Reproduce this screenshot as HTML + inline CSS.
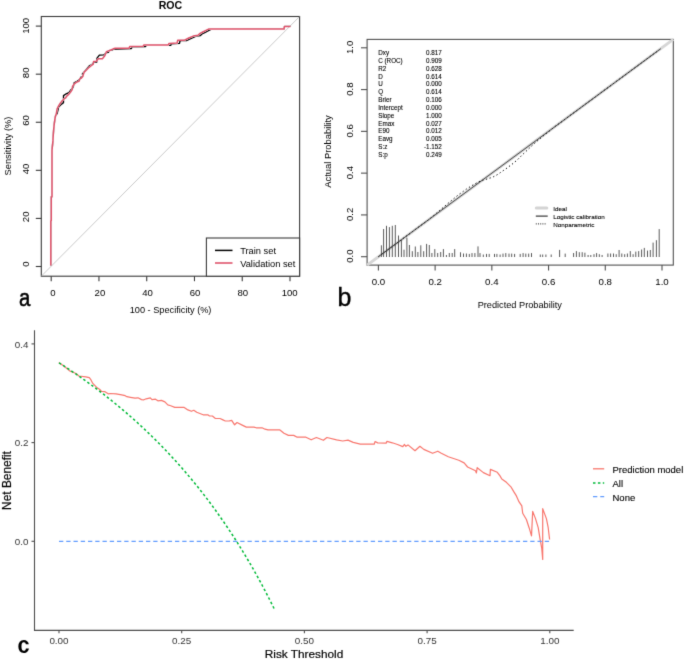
<!DOCTYPE html>
<html><head><meta charset="utf-8"><style>
html,body{margin:0;padding:0;background:#fff;width:685px;height:660px;overflow:hidden}
svg{display:block}
text{font-family:"Liberation Sans", sans-serif}
</style></head><body>
<svg width="685" height="660" viewBox="0 0 685 660" font-family='"Liberation Sans", sans-serif'>
<defs><filter id="bl" x="0" y="0" width="685" height="660" filterUnits="userSpaceOnUse" color-interpolation-filters="sRGB"><feConvolveMatrix order="3" kernelMatrix="0.0113 0.0838 0.0113 0.0838 0.6193 0.0838 0.0113 0.0838 0.0113" edgeMode="duplicate"/></filter></defs>
<g filter="url(#bl)">
<rect width="685" height="660" fill="#fff"/>
<rect x="41.3" y="16.5" width="258.3" height="259.7" fill="none" stroke="#3a3a3a" stroke-width="1.1"/>
<line x1="41.3" y1="276.2" x2="299.6" y2="16.5" stroke="#bdbdbd" stroke-width="0.8"/>
<line x1="35.8" y1="266.5" x2="41.3" y2="266.5" stroke="#3a3a3a" stroke-width="1.1"/>
<text x="0" y="0" transform="translate(28.5,264.1) rotate(-90)" text-anchor="middle" font-size="9.6" fill="#000">0</text>
<line x1="51.2" y1="276.2" x2="51.2" y2="281.2" stroke="#3a3a3a" stroke-width="1.1"/>
<text x="52.8" y="295.9" text-anchor="middle" font-size="9.6" fill="#000">0</text>
<line x1="35.8" y1="218.42" x2="41.3" y2="218.42" stroke="#3a3a3a" stroke-width="1.1"/>
<text x="0" y="0" transform="translate(28.5,216.82) rotate(-90)" text-anchor="middle" font-size="9.6" fill="#000">20</text>
<line x1="98.96" y1="276.2" x2="98.96" y2="281.2" stroke="#3a3a3a" stroke-width="1.1"/>
<text x="99.96" y="295.9" text-anchor="middle" font-size="9.6" fill="#000">20</text>
<line x1="35.8" y1="170.34" x2="41.3" y2="170.34" stroke="#3a3a3a" stroke-width="1.1"/>
<text x="0" y="0" transform="translate(28.5,168.94) rotate(-90)" text-anchor="middle" font-size="9.6" fill="#000">40</text>
<line x1="146.72" y1="276.2" x2="146.72" y2="281.2" stroke="#3a3a3a" stroke-width="1.1"/>
<text x="147.62" y="295.9" text-anchor="middle" font-size="9.6" fill="#000">40</text>
<line x1="35.8" y1="122.26" x2="41.3" y2="122.26" stroke="#3a3a3a" stroke-width="1.1"/>
<text x="0" y="0" transform="translate(28.5,120.46) rotate(-90)" text-anchor="middle" font-size="9.6" fill="#000">60</text>
<line x1="194.48" y1="276.2" x2="194.48" y2="281.2" stroke="#3a3a3a" stroke-width="1.1"/>
<text x="195.08" y="295.9" text-anchor="middle" font-size="9.6" fill="#000">60</text>
<line x1="35.8" y1="74.18" x2="41.3" y2="74.18" stroke="#3a3a3a" stroke-width="1.1"/>
<text x="0" y="0" transform="translate(28.5,72.88) rotate(-90)" text-anchor="middle" font-size="9.6" fill="#000">80</text>
<line x1="242.24" y1="276.2" x2="242.24" y2="281.2" stroke="#3a3a3a" stroke-width="1.1"/>
<text x="242.84" y="295.9" text-anchor="middle" font-size="9.6" fill="#000">80</text>
<line x1="35.8" y1="26.1" x2="41.3" y2="26.1" stroke="#3a3a3a" stroke-width="1.1"/>
<text x="0" y="0" transform="translate(28.5,25.8) rotate(-90)" text-anchor="middle" font-size="9.6" fill="#000">100</text>
<line x1="290" y1="276.2" x2="290" y2="281.2" stroke="#3a3a3a" stroke-width="1.1"/>
<text x="289.7" y="295.9" text-anchor="middle" font-size="9.6" fill="#000">100</text>
<text x="170.5" y="9.3" text-anchor="middle" font-size="10.6" font-weight="bold" fill="#000">ROC</text>
<text x="170.6" y="313.2" text-anchor="middle" font-size="9.2" fill="#000">100 - Specificity (%)</text>
<text x="0" y="0" transform="translate(10.9,146) rotate(-90)" text-anchor="middle" font-size="9.3" fill="#000">Sensitivity (%)</text>
<rect x="206.4" y="238" width="93.2" height="38.2" fill="#fff" stroke="#3a3a3a" stroke-width="1.1"/>
<line x1="215" y1="250.4" x2="232.5" y2="250.4" stroke="#000" stroke-width="1.5"/>
<line x1="215" y1="263" x2="232.5" y2="263" stroke="#DF536B" stroke-width="1.6"/>
<text x="240.2" y="254.4" font-size="9.3" fill="#000">Train set</text>
<text x="240.2" y="267" font-size="9.3" fill="#000">Validation set</text>
<mask id="mr" maskUnits="userSpaceOnUse" x="0" y="0" width="685" height="660"><rect width="685" height="660" fill="#fff"/><polyline points="50.8,265.5 50.8,220.8 51.3,220.8 51.3,196.7 52,196.7 52,150.6 52.9,140.9 53.7,128.8 54.7,120.3 55.5,116 56.2,114.4 57.1,108.9 58.6,105.9 60.1,103.5 61.9,101.1 63.8,99.2 65.9,97.7 66.2,96.8 68.6,94.4 70.4,92.3 72.2,89.5 72.5,86.5 74.1,84.1 75.6,82.9 77.7,81.7 79.2,81.1 79.8,78.6 81.2,78.2 82.7,76.4 84.2,72.1 86.7,69.7 89.1,67.3 91.5,65.5 93.3,64.2 93.6,61.5 96.4,61.2 98.2,58.8 102.4,58.8 104.8,55.8 106.4,51.8 108.5,50.9 110.9,50 113.3,48.8 115.2,48.2 129,48.2 129.7,46.6 143.2,46.2 143.8,45.1 168.3,45.1 168.9,43.5 177.1,43.1 177.7,40.2 184.5,40.2 188.8,38 193.2,36.1 198,35.3 199.6,33.7 202.8,32 206,30.4 208.5,29.1 284,29.1 284.5,26.4 290.4,26.4" fill="none" stroke="#000" stroke-width="1.7" stroke-linejoin="round"/></mask>
<polyline points="50.8,265.5 50.8,220.8 51.3,220.8 51.3,196.7 52,196.7 52,150.6 52.9,140.9 53.7,128.8 54.7,120.3 55.5,116 56.2,114.4 57.1,113.8 58.6,107.1 60.5,105 63.5,102.6 63.5,95.6 66.2,93.8 68.9,92.6 70.7,90.2 72.8,87.7 73.5,85.9 74.1,82.9 76.5,81.7 79.8,79.2 81,77.1 82.8,76.2 82.4,73.9 86.1,69.7 89.7,65.5 92.1,64.5 93.9,62.1 96.7,62.1 97,58.2 99.4,55.2 103.9,54.8 106.7,52.7 108.5,52.4 109.1,50.6 112.1,50 113.9,49.1 116.4,49.1 131.4,48.5 132.1,46.9 145.6,46.5 146.2,45.4 170.7,45.4 171.3,43.8 179.5,43.4 180.1,40.5 186.9,40.5 191.2,38.3 195.6,36.4 200.4,35.6 202,34 205.2,32.3 208.4,30.7 210.9,29.4 284,29.1 284.5,26.4 290.4,26.4" fill="none" stroke="#000" stroke-width="1.35" stroke-linejoin="round" mask="url(#mr)"/>
<polyline points="50.8,265.5 50.8,220.8 51.3,220.8 51.3,196.7 52,196.7 52,150.6 52.9,140.9 53.7,128.8 54.7,120.3 55.5,116 56.2,114.4 57.1,108.9 58.6,105.9 60.1,103.5 61.9,101.1 63.8,99.2 65.9,97.7 66.2,96.8 68.6,94.4 70.4,92.3 72.2,89.5 72.5,86.5 74.1,84.1 75.6,82.9 77.7,81.7 79.2,81.1 79.8,78.6 81.2,78.2 82.7,76.4 84.2,72.1 86.7,69.7 89.1,67.3 91.5,65.5 93.3,64.2 93.6,61.5 96.4,61.2 98.2,58.8 102.4,58.8 104.8,55.8 106.4,51.8 108.5,50.9 110.9,50 113.3,48.8 115.2,48.2 129,48.2 129.7,46.6 143.2,46.2 143.8,45.1 168.3,45.1 168.9,43.5 177.1,43.1 177.7,40.2 184.5,40.2 188.8,38 193.2,36.1 198,35.3 199.6,33.7 202.8,32 206,30.4 208.5,29.1 284,29.1 284.5,26.4 290.4,26.4" fill="none" stroke="#DF536B" stroke-width="1.5" stroke-linejoin="round"/>
<text x="0" y="0" transform="translate(18.9,306.1) scale(0.82,1)" font-size="24.8" fill="#000" stroke="#000" stroke-width="0.55">a</text>
<rect x="367.1" y="39.4" width="306.2" height="225.7" fill="none" stroke="#505050" stroke-width="1.1"/>
<line x1="367.1" y1="265.1" x2="673.3" y2="39.4" stroke="#d6d6d6" stroke-width="3.0"/>
<g stroke="#5a5a5a" stroke-width="1"><line x1="381.4" y1="257" x2="381.4" y2="245.3"/><line x1="383.6" y1="257" x2="383.6" y2="229"/><line x1="386.5" y1="257" x2="386.5" y2="225.8"/><line x1="389.4" y1="257" x2="389.4" y2="227.1"/><line x1="392.3" y1="257" x2="392.3" y2="225.8"/><line x1="395.3" y1="257" x2="395.3" y2="225"/><line x1="398.5" y1="257" x2="398.5" y2="235.5"/><line x1="401.4" y1="257" x2="401.4" y2="240"/><line x1="404" y1="257" x2="404" y2="249.7"/><line x1="406.9" y1="257" x2="406.9" y2="237.7"/><line x1="409.4" y1="257" x2="409.4" y2="245"/><line x1="412.3" y1="257" x2="412.3" y2="251.2"/><line x1="415.3" y1="257" x2="415.3" y2="246.5"/><line x1="417.9" y1="257" x2="417.9" y2="252"/><line x1="420.8" y1="257" x2="420.8" y2="245.3"/><line x1="423.7" y1="257" x2="423.7" y2="251.2"/><line x1="426.6" y1="257" x2="426.6" y2="243.9"/><line x1="429.3" y1="257" x2="429.3" y2="245"/><line x1="431.9" y1="257" x2="431.9" y2="253"/><line x1="434.8" y1="257" x2="434.8" y2="249.1"/><line x1="437.7" y1="257" x2="437.7" y2="253"/><line x1="440.7" y1="257" x2="440.7" y2="252"/><line x1="443.4" y1="257" x2="443.4" y2="249.1"/><line x1="446.4" y1="257" x2="446.4" y2="255"/><line x1="449.3" y1="257" x2="449.3" y2="253"/><line x1="452.2" y1="257" x2="452.2" y2="253"/><line x1="454.7" y1="257" x2="454.7" y2="249.1"/><line x1="460.5" y1="257" x2="460.5" y2="252.3"/><line x1="463.5" y1="257" x2="463.5" y2="253.5"/><line x1="466.4" y1="257" x2="466.4" y2="253.5"/><line x1="469.3" y1="257" x2="469.3" y2="253.9"/><line x1="472" y1="257" x2="472" y2="253.1"/><line x1="474.9" y1="257" x2="474.9" y2="253.1"/><line x1="478" y1="257" x2="478" y2="246.4"/><line x1="480" y1="257" x2="480" y2="253.1"/><line x1="483.3" y1="257" x2="483.3" y2="254.5"/><line x1="486.5" y1="257" x2="486.5" y2="253.9"/><line x1="489.2" y1="257" x2="489.2" y2="253.9"/><line x1="494.5" y1="257" x2="494.5" y2="253.9"/><line x1="496.9" y1="257" x2="496.9" y2="253.9"/><line x1="500.1" y1="257" x2="500.1" y2="254.5"/><line x1="503" y1="257" x2="503" y2="253.6"/><line x1="505.8" y1="257" x2="505.8" y2="253.1"/><line x1="509" y1="257" x2="509" y2="253.6"/><line x1="511.7" y1="257" x2="511.7" y2="253.6"/><line x1="514.6" y1="257" x2="514.6" y2="253.9"/><line x1="520.2" y1="257" x2="520.2" y2="253.9"/><line x1="523.1" y1="257" x2="523.1" y2="253.1"/><line x1="525.8" y1="257" x2="525.8" y2="253.6"/><line x1="528.7" y1="257" x2="528.7" y2="253.6"/><line x1="531.5" y1="257" x2="531.5" y2="253.1"/><line x1="540.3" y1="257" x2="540.3" y2="254.5"/><line x1="542.7" y1="257" x2="542.7" y2="254.5"/><line x1="545.9" y1="257" x2="545.9" y2="254.5"/><line x1="551.2" y1="257" x2="551.2" y2="254.5"/><line x1="559.6" y1="257" x2="559.6" y2="249.9"/><line x1="565.2" y1="257" x2="565.2" y2="253.6"/><line x1="573.6" y1="257" x2="573.6" y2="253"/><line x1="576.4" y1="257" x2="576.4" y2="251.1"/><line x1="579.3" y1="257" x2="579.3" y2="252.2"/><line x1="582.2" y1="257" x2="582.2" y2="252.2"/><line x1="584.9" y1="257" x2="584.9" y2="252.7"/><line x1="588.1" y1="257" x2="588.1" y2="255"/><line x1="590.8" y1="257" x2="590.8" y2="255"/><line x1="594" y1="257" x2="594" y2="254.2"/><line x1="596.6" y1="257" x2="596.6" y2="253.1"/><line x1="599.3" y1="257" x2="599.3" y2="254.2"/><line x1="602.1" y1="257" x2="602.1" y2="255"/><line x1="607.9" y1="257" x2="607.9" y2="253.5"/><line x1="610.6" y1="257" x2="610.6" y2="253.5"/><line x1="613.5" y1="257" x2="613.5" y2="253.5"/><line x1="616.2" y1="257" x2="616.2" y2="254.2"/><line x1="619.1" y1="257" x2="619.1" y2="250"/><line x1="621.8" y1="257" x2="621.8" y2="253.5"/><line x1="624.7" y1="257" x2="624.7" y2="254.2"/><line x1="627.4" y1="257" x2="627.4" y2="253.5"/><line x1="630.3" y1="257" x2="630.3" y2="251.1"/><line x1="633.1" y1="257" x2="633.1" y2="254.2"/><line x1="635.8" y1="257" x2="635.8" y2="251.6"/><line x1="638.7" y1="257" x2="638.7" y2="251.1"/><line x1="641.6" y1="257" x2="641.6" y2="249.5"/><line x1="644.3" y1="257" x2="644.3" y2="247.9"/><line x1="647.5" y1="257" x2="647.5" y2="250.6"/><line x1="650.3" y1="257" x2="650.3" y2="250"/><line x1="653.1" y1="257" x2="653.1" y2="242.6"/><line x1="656.4" y1="257" x2="656.4" y2="240.2"/><line x1="659.2" y1="257" x2="659.2" y2="229.1"/></g>
<polyline points="378.4,256.7 379.82,255.66 381.24,254.61 382.65,253.57 384.07,252.52 385.49,251.48 386.91,250.43 388.33,249.39 389.74,248.34 391.16,247.3 392.58,246.25 394,245.21 395.42,244.17 396.83,243.12 398.25,242.08 399.67,241.03 401.09,239.99 402.51,238.94 403.92,237.9 405.34,236.85 406.76,235.81 408.18,234.77 409.6,233.72 411.01,232.68 412.43,231.63 413.85,230.59 415.27,229.54 416.69,228.5 418.1,227.45 419.52,226.41 420.94,225.36 422.36,224.32 423.78,223.28 425.19,222.23 426.61,221.19 428.03,220.14 429.45,219.1 430.87,217.9 432.28,216.71 433.7,215.51 435.12,214.32 436.54,213.13 437.96,211.93 439.37,210.74 440.79,209.54 442.21,208.33 443.63,207.12 445.05,205.91 446.46,204.7 447.88,203.49 449.3,202.27 450.72,201.11 452.14,199.95 453.55,198.79 454.97,197.63 456.39,196.47 457.81,195.31 459.23,194.28 460.64,193.25 462.06,192.22 463.48,191.2 464.9,190.17 466.32,189.14 467.73,188.25 469.15,187.35 470.57,186.46 471.99,185.56 473.41,184.77 474.82,183.97 476.24,183.18 477.66,182.38 479.08,181.74 480.5,181.1 481.91,180.45 483.33,180.07 484.75,179.7 486.17,179.32 487.59,178.77 489,178.23 490.42,177.93 491.84,177.64 493.26,176.87 494.68,176.1 496.09,175.33 497.51,174.56 498.93,173.58 500.35,172.61 501.77,171.63 503.18,170.65 504.6,169.67 506.02,168.69 507.44,167.65 508.86,166.61 510.27,165.56 511.69,164.52 513.11,163.35 514.53,162.18 515.95,161.01 517.36,159.84 518.78,158.42 520.2,157 521.62,155.58 523.04,154.16 524.45,152.82 525.87,151.47 527.29,150.13 528.71,148.78 530.13,147.44 531.54,146.09 532.96,144.75 534.38,143.4 535.8,142.19 537.22,140.98 538.63,139.77 540.05,138.56 541.47,137.35 542.89,136.14 544.31,135.02 545.72,133.9 547.14,132.78 548.56,131.66 549.98,130.54 551.4,129.42 552.81,128.3 554.23,127.18 555.65,126.14 557.07,125.09 558.49,124.05 559.9,123 561.32,121.96 562.74,120.91 564.16,119.87 565.58,118.83 566.99,117.78 568.41,116.74 569.83,115.69 571.25,114.65 572.67,113.6 574.08,112.56 575.5,111.51 576.92,110.47 578.34,109.43 579.76,108.38 581.17,107.34 582.59,106.29 584.01,105.25 585.43,104.2 586.85,103.16 588.26,102.11 589.68,101.07 591.1,100.02 592.52,98.98 593.94,97.94 595.35,96.89 596.77,95.85 598.19,94.8 599.61,93.76 601.03,92.71 602.44,91.67 603.86,90.62 605.28,89.58 606.7,88.54 608.12,87.49 609.53,86.45 610.95,85.4 612.37,84.36 613.79,83.31 615.21,82.27 616.62,81.22 618.04,80.18 619.46,79.13 620.88,78.09 622.3,77.05 623.71,76 625.13,74.96 626.55,73.91 627.97,72.87 629.39,71.82 630.8,70.78 632.22,69.73 633.64,68.69 635.06,67.65 636.48,66.6 637.89,65.56 639.31,64.51 640.73,63.47 642.15,62.42 643.57,61.38 644.98,60.33 646.4,59.29 647.82,58.24 649.24,57.2 650.66,56.16 652.07,55.11 653.49,54.07 654.91,53.02 656.33,51.98 657.75,50.93 659.16,49.89" fill="none" stroke="#000" stroke-width="1.0" stroke-dasharray="1.3 2.5"/>
<line x1="378.4" y1="256.7" x2="660.87" y2="48.64" stroke="#222" stroke-width="0.8"/>
<line x1="361" y1="256.7" x2="367.1" y2="256.7" stroke="#505050" stroke-width="1.1"/>
<text x="0" y="0" transform="translate(353.3,256.2) rotate(-90)" text-anchor="middle" font-size="9.6" fill="#000">0.0</text>
<line x1="378.4" y1="265.1" x2="378.4" y2="270.6" stroke="#505050" stroke-width="1.1"/>
<text x="378.4" y="284.8" text-anchor="middle" font-size="9.7" fill="#000">0.0</text>
<line x1="361" y1="214.92" x2="367.1" y2="214.92" stroke="#505050" stroke-width="1.1"/>
<text x="0" y="0" transform="translate(353.3,214.42) rotate(-90)" text-anchor="middle" font-size="9.6" fill="#000">0.2</text>
<line x1="435.12" y1="265.1" x2="435.12" y2="270.6" stroke="#505050" stroke-width="1.1"/>
<text x="435.12" y="284.8" text-anchor="middle" font-size="9.7" fill="#000">0.2</text>
<line x1="361" y1="173.14" x2="367.1" y2="173.14" stroke="#505050" stroke-width="1.1"/>
<text x="0" y="0" transform="translate(353.3,172.64) rotate(-90)" text-anchor="middle" font-size="9.6" fill="#000">0.4</text>
<line x1="491.84" y1="265.1" x2="491.84" y2="270.6" stroke="#505050" stroke-width="1.1"/>
<text x="491.84" y="284.8" text-anchor="middle" font-size="9.7" fill="#000">0.4</text>
<line x1="361" y1="131.36" x2="367.1" y2="131.36" stroke="#505050" stroke-width="1.1"/>
<text x="0" y="0" transform="translate(353.3,130.86) rotate(-90)" text-anchor="middle" font-size="9.6" fill="#000">0.6</text>
<line x1="548.56" y1="265.1" x2="548.56" y2="270.6" stroke="#505050" stroke-width="1.1"/>
<text x="548.56" y="284.8" text-anchor="middle" font-size="9.7" fill="#000">0.6</text>
<line x1="361" y1="89.58" x2="367.1" y2="89.58" stroke="#505050" stroke-width="1.1"/>
<text x="0" y="0" transform="translate(353.3,89.08) rotate(-90)" text-anchor="middle" font-size="9.6" fill="#000">0.8</text>
<line x1="605.28" y1="265.1" x2="605.28" y2="270.6" stroke="#505050" stroke-width="1.1"/>
<text x="605.28" y="284.8" text-anchor="middle" font-size="9.7" fill="#000">0.8</text>
<line x1="361" y1="47.8" x2="367.1" y2="47.8" stroke="#505050" stroke-width="1.1"/>
<text x="0" y="0" transform="translate(353.3,47.3) rotate(-90)" text-anchor="middle" font-size="9.6" fill="#000">1.0</text>
<line x1="662" y1="265.1" x2="662" y2="270.6" stroke="#505050" stroke-width="1.1"/>
<text x="662" y="284.8" text-anchor="middle" font-size="9.7" fill="#000">1.0</text>
<text x="519.8" y="307.9" text-anchor="middle" font-size="9.2" fill="#000">Predicted Probability</text>
<text x="0" y="0" transform="translate(331.3,151.5) rotate(-90)" text-anchor="middle" font-size="9.4" fill="#000">Actual Probability</text>
<text x="378.2" y="55.2" font-size="6.3" fill="#000" stroke="#000" stroke-width="0.1">Dxy</text>
<text x="441.8" y="55.2" text-anchor="end" font-size="6.3" fill="#000" stroke="#000" stroke-width="0.1">0.817</text>
<text x="378.2" y="63.02" font-size="6.3" fill="#000" stroke="#000" stroke-width="0.1">C (ROC)</text>
<text x="441.8" y="63.02" text-anchor="end" font-size="6.3" fill="#000" stroke="#000" stroke-width="0.1">0.909</text>
<text x="378.2" y="70.84" font-size="6.3" fill="#000" stroke="#000" stroke-width="0.1">R2</text>
<text x="441.8" y="70.84" text-anchor="end" font-size="6.3" fill="#000" stroke="#000" stroke-width="0.1">0.628</text>
<text x="378.2" y="78.66" font-size="6.3" fill="#000" stroke="#000" stroke-width="0.1">D</text>
<text x="441.8" y="78.66" text-anchor="end" font-size="6.3" fill="#000" stroke="#000" stroke-width="0.1">0.614</text>
<text x="378.2" y="86.48" font-size="6.3" fill="#000" stroke="#000" stroke-width="0.1">U</text>
<text x="441.8" y="86.48" text-anchor="end" font-size="6.3" fill="#000" stroke="#000" stroke-width="0.1">0.000</text>
<text x="378.2" y="94.3" font-size="6.3" fill="#000" stroke="#000" stroke-width="0.1">Q</text>
<text x="441.8" y="94.3" text-anchor="end" font-size="6.3" fill="#000" stroke="#000" stroke-width="0.1">0.614</text>
<text x="378.2" y="102.12" font-size="6.3" fill="#000" stroke="#000" stroke-width="0.1">Brier</text>
<text x="441.8" y="102.12" text-anchor="end" font-size="6.3" fill="#000" stroke="#000" stroke-width="0.1">0.106</text>
<text x="378.2" y="109.94" font-size="6.3" fill="#000" stroke="#000" stroke-width="0.1">Intercept</text>
<text x="441.8" y="109.94" text-anchor="end" font-size="6.3" fill="#000" stroke="#000" stroke-width="0.1">0.000</text>
<text x="378.2" y="117.76" font-size="6.3" fill="#000" stroke="#000" stroke-width="0.1">Slope</text>
<text x="441.8" y="117.76" text-anchor="end" font-size="6.3" fill="#000" stroke="#000" stroke-width="0.1">1.000</text>
<text x="378.2" y="125.58" font-size="6.3" fill="#000" stroke="#000" stroke-width="0.1">Emax</text>
<text x="441.8" y="125.58" text-anchor="end" font-size="6.3" fill="#000" stroke="#000" stroke-width="0.1">0.027</text>
<text x="378.2" y="133.4" font-size="6.3" fill="#000" stroke="#000" stroke-width="0.1">E90</text>
<text x="441.8" y="133.4" text-anchor="end" font-size="6.3" fill="#000" stroke="#000" stroke-width="0.1">0.012</text>
<text x="378.2" y="141.22" font-size="6.3" fill="#000" stroke="#000" stroke-width="0.1">Eavg</text>
<text x="441.8" y="141.22" text-anchor="end" font-size="6.3" fill="#000" stroke="#000" stroke-width="0.1">0.005</text>
<text x="378.2" y="149.04" font-size="6.3" fill="#000" stroke="#000" stroke-width="0.1">S:z</text>
<text x="441.8" y="149.04" text-anchor="end" font-size="6.3" fill="#000" stroke="#000" stroke-width="0.1">-1.152</text>
<text x="378.2" y="156.86" font-size="6.3" fill="#000" stroke="#000" stroke-width="0.1">S:p</text>
<text x="441.8" y="156.86" text-anchor="end" font-size="6.3" fill="#000" stroke="#000" stroke-width="0.1">0.249</text>
<line x1="536.3" y1="207.9" x2="546.8" y2="207.9" stroke="#d4d4d4" stroke-width="3" stroke-linecap="round"/>
<line x1="535.8" y1="216.1" x2="547.7" y2="216.1" stroke="#222" stroke-width="1.1"/>
<line x1="535.8" y1="223.9" x2="546.6" y2="223.9" stroke="#000" stroke-width="0.9" stroke-dasharray="1 1.2"/>
<text x="553.3" y="210.6" font-size="6.25" fill="#000" stroke="#000" stroke-width="0.1">Ideal</text>
<text x="553.3" y="218.8" font-size="6.25" fill="#000" stroke="#000" stroke-width="0.1">Logistic calibration</text>
<text x="553.3" y="226.6" font-size="6.25" fill="#000" stroke="#000" stroke-width="0.1">Nonparametric</text>
<text x="0" y="0" transform="translate(337.6,305.7) scale(0.95,1)" font-size="26.3" fill="#000" stroke="#000" stroke-width="0.4">b</text>
<line x1="34.5" y1="330.3" x2="34.5" y2="630.9" stroke="#4d4d4d" stroke-width="1.1"/>
<line x1="34" y1="630.4" x2="573.7" y2="630.4" stroke="#4d4d4d" stroke-width="1.1"/>
<line x1="31.5" y1="541.3" x2="34.5" y2="541.3" stroke="#4d4d4d" stroke-width="1.1"/>
<text x="28.4" y="544.9" text-anchor="end" font-size="9.8" fill="#333">0.0</text>
<line x1="31.5" y1="442.6" x2="34.5" y2="442.6" stroke="#4d4d4d" stroke-width="1.1"/>
<text x="28.4" y="446.2" text-anchor="end" font-size="9.8" fill="#333">0.2</text>
<line x1="31.5" y1="343.9" x2="34.5" y2="343.9" stroke="#4d4d4d" stroke-width="1.1"/>
<text x="28.4" y="347.5" text-anchor="end" font-size="9.8" fill="#333">0.4</text>
<line x1="59" y1="630.4" x2="59" y2="633.2" stroke="#4d4d4d" stroke-width="1.1"/>
<text x="59" y="644.2" text-anchor="middle" font-size="9.9" fill="#333">0.00</text>
<line x1="181.7" y1="630.4" x2="181.7" y2="633.2" stroke="#4d4d4d" stroke-width="1.1"/>
<text x="181.7" y="644.2" text-anchor="middle" font-size="9.9" fill="#333">0.25</text>
<line x1="304.4" y1="630.4" x2="304.4" y2="633.2" stroke="#4d4d4d" stroke-width="1.1"/>
<text x="304.4" y="644.2" text-anchor="middle" font-size="9.9" fill="#333">0.50</text>
<line x1="427.1" y1="630.4" x2="427.1" y2="633.2" stroke="#4d4d4d" stroke-width="1.1"/>
<text x="427.1" y="644.2" text-anchor="middle" font-size="9.9" fill="#333">0.75</text>
<line x1="549.8" y1="630.4" x2="549.8" y2="633.2" stroke="#4d4d4d" stroke-width="1.1"/>
<text x="549.8" y="644.2" text-anchor="middle" font-size="9.9" fill="#333">1.00</text>
<text x="304" y="658.1" text-anchor="middle" font-size="11.8" fill="#000" stroke="#000" stroke-width="0.2">Risk Threshold</text>
<text x="0" y="0" transform="translate(10.6,480.5) rotate(-90)" text-anchor="middle" font-size="11.9" fill="#000" stroke="#000" stroke-width="0.2">Net Benefit</text>
<polyline points="58.8,362.6 64.8,366.8 70,371.1 73,372.3 76.6,373.8 78.8,376 85.8,376.8 89.3,377.7 91,379.9 92.8,383.4 97.2,387.8 99.8,389.5 101.5,391.3 105,391.7 108.5,393.9 110.3,393.5 116,393.9 121.7,394.9 125.2,395.7 126.9,396.7 130.4,397.3 135.1,398.1 138,397.8 141.5,399.6 143.9,399.8 146.2,398.8 150.3,397.8 152,399.6 155.5,399.2 157.9,400.8 161.4,400.4 164.9,401.9 167.8,404.9 170.7,405.8 174.8,407.4 184.2,407.4 187.9,409.9 191.4,411.3 193.8,410.3 196.7,412.3 203.1,414.8 207.8,414.8 209.5,416 212.4,416 215.4,418.5 220,418.5 222.4,419.6 225.3,421 229.4,420.8 231.7,420.4 234.6,424.8 237,422.5 242.2,425.1 246.3,427.1 253.9,427.1 256.2,427.8 262.1,427.8 265,429.2 268,429.8 279.6,429.8 284,433.3 288.4,435.4 293.7,435.4 297.2,437.2 305.9,437.2 311.2,439.8 316.4,437.5 323.4,440.3 326.9,437.5 336.6,439.8 342.7,441 348,440.1 353.2,442.4 360.2,444.2 374.2,444.2 375.1,441.5 377.7,442.9 386.1,443.1 387,441.4 392.3,442.8 397.5,444.5 402.8,446.6 404.5,444.5 405.9,446.3 408,444.9 415,450.7 419.9,446.3 423.8,449.4 432.6,453.3 437.8,451.2 441.3,453.3 448.3,456.8 458.8,460.3 464.1,462.9 467.6,467 475.5,470.8 476.4,472.9 477.2,467.7 483.4,472.6 490,475.7 490.4,469.4 497.3,472.3 500,475.9 501.8,479 506.4,482.3 510.9,486.8 513.6,491.4 516.4,495.9 519.1,501.9 521.8,505.9 522.7,513.2 526.4,519.5 529.1,527.7 531.5,535.9 532.7,511.4 535.5,518.6 538.2,527.7 540,538.6 541.8,548.6 542.7,559.5 542.7,508.6 546.4,518.6 548.2,527.7 549.6,539.5" fill="none" stroke="#F8766D" stroke-width="1.2" stroke-linejoin="round"/>
<polyline points="59,362.8 61.45,364.38 63.91,365.98 66.36,367.6 68.82,369.23 71.27,370.88 73.72,372.54 76.18,374.23 78.63,375.93 81.09,377.64 83.54,379.38 85.99,381.13 88.45,382.91 90.9,384.7 93.36,386.51 95.81,388.34 98.26,390.19 100.72,392.06 103.17,393.95 105.63,395.87 108.08,397.8 110.53,399.76 112.99,401.73 115.44,403.73 117.9,405.76 120.35,407.8 122.8,409.87 125.26,411.96 127.71,414.08 130.17,416.22 132.62,418.39 135.07,420.58 137.53,422.8 139.98,425.05 142.44,427.32 144.89,429.62 147.34,431.95 149.8,434.3 152.25,436.69 154.71,439.11 157.16,441.55 159.61,444.03 162.07,446.54 164.52,449.08 166.98,451.65 169.43,454.25 171.88,456.89 174.34,459.57 176.79,462.28 179.25,465.02 181.7,467.8 184.15,470.62 186.61,473.48 189.06,476.37 191.52,479.31 193.97,482.28 196.42,485.3 198.88,488.36 201.33,491.46 203.79,494.61 206.24,497.8 208.69,501.04 211.15,504.32 213.6,507.66 216.06,511.04 218.51,514.47 220.96,517.95 223.42,521.49 225.87,525.07 228.33,528.72 230.78,532.42 233.23,536.17 235.69,539.99 238.14,543.86 240.6,547.8 243.05,551.8 245.5,555.87 247.96,560 250.41,564.2 252.87,568.46 255.32,572.8 257.77,577.21 260.23,581.7 262.68,586.26 265.14,590.91 267.59,595.63 270.04,600.43 272.5,605.32 274.95,610.3" fill="none" stroke="#00BA38" stroke-width="1.5" stroke-dasharray="2.5 2.4"/>
<line x1="59" y1="541.3" x2="549.8" y2="541.3" stroke="#619CFF" stroke-width="1.3" stroke-dasharray="4.3 2.95"/>
<line x1="593" y1="468.8" x2="604.2" y2="468.8" stroke="#F8766D" stroke-width="1.3"/>
<line x1="593" y1="483" x2="604.2" y2="483" stroke="#00BA38" stroke-width="1.5" stroke-dasharray="2.5 2.4"/>
<line x1="593" y1="496.7" x2="604.2" y2="496.7" stroke="#619CFF" stroke-width="1.3" stroke-dasharray="4.3 2.95"/>
<text x="612.5" y="473.4" font-size="9.5" fill="#000" stroke="#000" stroke-width="0.12">Prediction model</text>
<text x="612.5" y="487.4" font-size="9.5" fill="#000" stroke="#000" stroke-width="0.12">All</text>
<text x="612.5" y="501.1" font-size="9.5" fill="#000" stroke="#000" stroke-width="0.12">None</text>
<text x="0" y="0" transform="translate(17.4,653.4) scale(0.88,1)" font-size="24.6" font-weight="bold" fill="#000">c</text>
</g>
</svg>
</body></html>
